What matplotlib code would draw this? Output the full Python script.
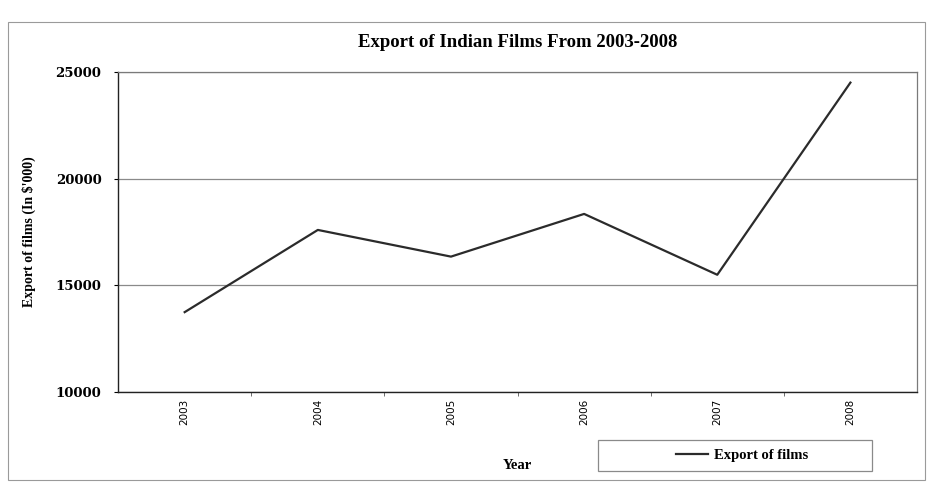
import matplotlib.pyplot as plt
from matplotlib.patches import Rectangle

years = ["2003", "2004", "2005", "2006", "2007", "2008"]
exports = [13750, 17600, 16350, 18350, 15500, 24500]
y_ticks = [10000, 15000, 20000, 25000]

serif = "DejaVu Serif"
times = "Liberation Serif"

fig = plt.figure(figsize=(9.3, 4.86), dpi=100)
ax = fig.add_axes([0.127, 0.193, 0.859, 0.659])

x = list(range(len(years)))
ax.plot(x, exports, color="#2b2b2b", linewidth=1.6, label="Export of films")

ax.set_xlim(-0.5, len(years) - 0.5)
ax.set_ylim(10000, 25000)
ax.set_yticks(y_ticks)
ax.set_yticklabels([str(v) for v in y_ticks], fontfamily=serif,
                   fontweight="bold", fontsize=9.5)
ax.set_xticks(x)
ax.set_xticklabels(years, rotation=90, fontsize=7.5, fontfamily="DejaVu Sans")
ax.set_xticks([i - 0.5 for i in range(1, len(years))], minor=True)
ax.tick_params(axis="x", which="major", length=0, pad=5)
ax.tick_params(axis="x", which="minor", length=3, color="#555555")
ax.tick_params(axis="y", length=3, pad=9)

ax.yaxis.grid(True, color="#8a8a8a", linewidth=0.9)
ax.set_axisbelow(True)
for s in ["top", "right"]:
    ax.spines[s].set_color("#7a7a7a")
    ax.spines[s].set_linewidth(0.9)
for s in ["left", "bottom"]:
    ax.spines[s].set_color("#222222")
    ax.spines[s].set_linewidth(1.0)

ax.set_title("Export of Indian Films From 2003-2008", fontfamily=times,
             fontweight="bold", fontsize=13.5, pad=18)
ax.set_xlabel("Year", fontfamily=times, fontweight="bold", fontsize=10.5,
              labelpad=24)
ax.set_ylabel("Export of films (In $'000)", fontfamily=times,
              fontweight="bold", fontsize=10, labelpad=14)

# legend in a wide excel-style box below the plot
fig.patches.append(Rectangle((598 / 930, 1 - 471 / 486), 274 / 930, 31 / 486,
                             transform=fig.transFigure, facecolor="white",
                             edgecolor="#8a8a8a", linewidth=0.9))
fig.legend(loc="center", bbox_to_anchor=(742 / 930, 1 - 455 / 486),
           frameon=False, handlelength=2.2, handletextpad=0.4,
           prop={"family": times, "weight": "bold", "size": 10.5})

# outer chart border
fig.patches.append(Rectangle((8 / 930, 1 - 480 / 486), 917 / 930, 458 / 486,
                             transform=fig.transFigure, fill=False,
                             edgecolor="#9a9a9a", linewidth=0.8))

fig.savefig("out.png", dpi=100)
